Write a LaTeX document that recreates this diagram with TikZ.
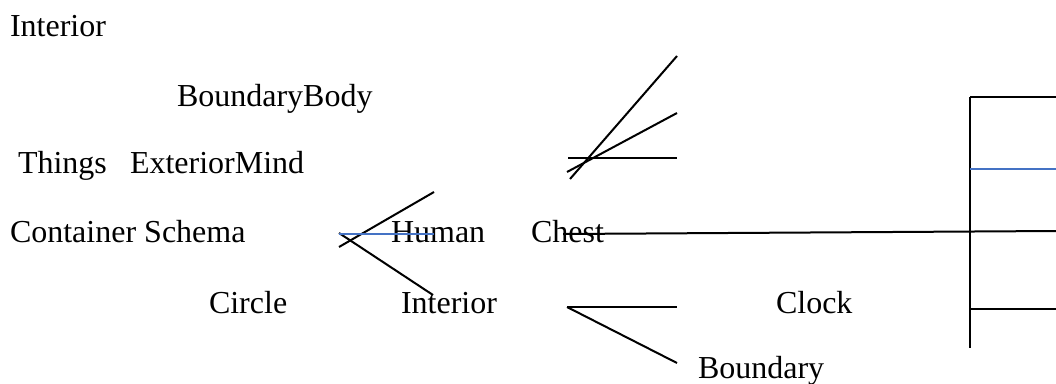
\documentclass[tikz,border=0pt]{standalone}
\usepackage{fontspec}
\setmainfont{Liberation Serif}
\definecolor{linkblue}{HTML}{4472C4}
\begin{document}
\begin{tikzpicture}[x=1pt,y=-1pt,
  lbl/.style={anchor=base west,inner sep=0pt,outer sep=0pt,font=\fontsize{32}{38}\selectfont},
  bar/.style={draw=black,line width=2pt},
  bluebar/.style={draw=linkblue,line width=2pt}]
\useasboundingbox (0,0) rectangle (1056,383);

% labels
\node[lbl] (interiorTop) at (10,36) {Interior};
\node[lbl] (boundaryBody) at (177,106) {BoundaryBody};
\node[lbl] (things) at (18,173) {Things};
\node[lbl] (exteriorMind) at (130,173) {ExteriorMind};
\node[lbl] (container) at (10,242) {Container Schema};
\node[lbl] (human) at (391,242) {Human};
\node[lbl] (chest) at (531,242) {Chest};
\node[lbl] (circle) at (209,313) {Circle};
\node[lbl] (interiorLow) at (401,313) {Interior};
\node[lbl] (clock) at (776,313) {Clock};
\node[lbl] (boundary) at (698,378) {Boundary};

% fork at Human
\coordinate (hA1) at (339,247); \coordinate (hA2) at (434,192);
\coordinate (hB1) at (339,233); \coordinate (hB2) at (433,295);
\coordinate (hC1) at (339,234); \coordinate (hC2) at (434,234);
\draw[bar] (hA1) -- (hA2);
\draw[bar] (hB1) -- (hB2);
\draw[bluebar] (hC1) -- (hC2);

% upper fan
\coordinate (fH1) at (568,158); \coordinate (fH2) at (677,158);
\coordinate (fS1) at (570,179); \coordinate (fS2) at (677,56);
\coordinate (fM1) at (567,172); \coordinate (fM2) at (677,113);
\draw[bar] (fH1) -- (fH2);
\draw[bar] (fS1) -- (fS2);
\draw[bar] (fM1) -- (fM2);

% lower fork
\coordinate (lV) at (567,307);
\coordinate (lH) at (677,307);
\coordinate (lD) at (677,363);
\draw[bar] (lV) -- (lH);
\draw[bar] (lV) -- (lD);

% bracket on the right
\coordinate (bTop) at (970,97); \coordinate (bBot) at (970,348);
\coordinate (bTopR) at (1056,97);
\coordinate (bBlueL) at (970,169); \coordinate (bBlueR) at (1056,169);
\coordinate (bLowL) at (970,309); \coordinate (bLowR) at (1056,309);
\draw[bar] (bTop) -- (bBot);
\draw[bar] (bTop) -- (bTopR);
\draw[bluebar] (bBlueL) -- (bBlueR);
\draw[bar] (bLowL) -- (bLowR);

% line from Chest to the right edge
\coordinate (chestStart) at (563,234);
\coordinate (chestEnd) at (1056,231);
\draw[bar] (chestStart) -- (chestEnd);
\end{tikzpicture}
\end{document}
